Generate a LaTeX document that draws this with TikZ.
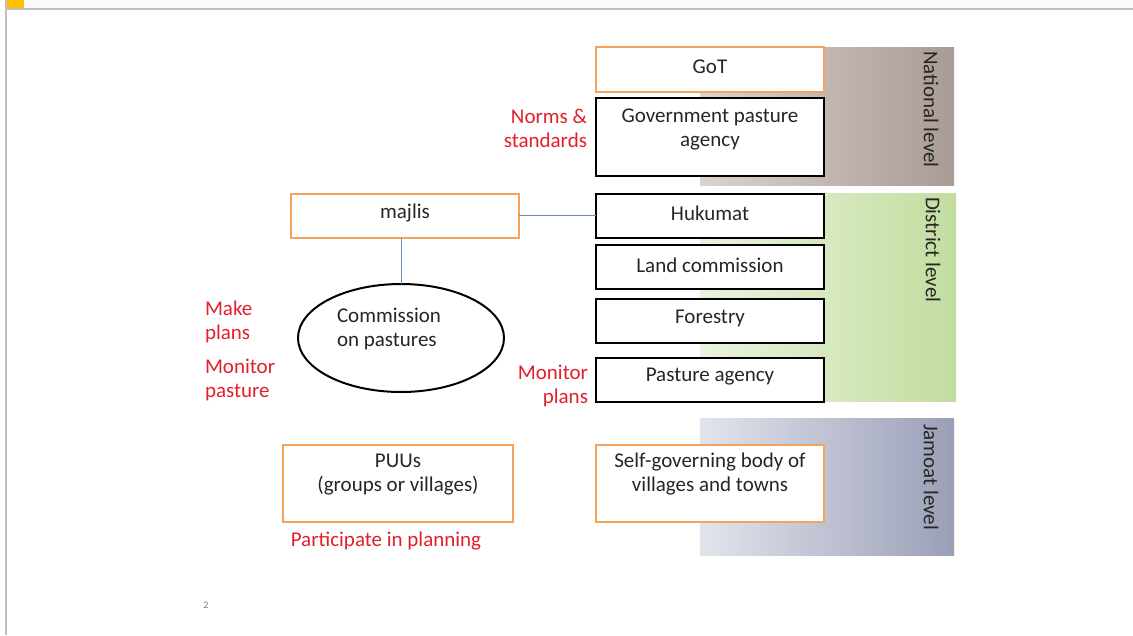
\documentclass[tikz,border=0pt]{standalone}
\usepackage{fontspec}
\setmainfont{Carlito}
\usetikzlibrary{shapes.geometric}
\definecolor{orangeb}{HTML}{F4A45C}
\definecolor{redlbl}{HTML}{E2202C}
\definecolor{connc}{HTML}{6F90B2}
\definecolor{topor}{HTML}{FFC000}
\definecolor{natL}{HTML}{DCD2CE}
\definecolor{natR}{HTML}{A99B95}
\definecolor{disL}{HTML}{EAF3DF}
\definecolor{disR}{HTML}{C3DD9F}
\definecolor{jamL}{HTML}{E2E4EC}
\definecolor{jamR}{HTML}{9A9FB7}
\begin{document}
\begin{tikzpicture}[x=1pt,y=-1pt,
  every node/.style={inner sep=0pt, outer sep=0pt},
  txt/.style={font=\fontsize{21}{24}\selectfont, text=black!85, align=center},
  redtxt/.style={font=\fontsize{21}{24}\selectfont, text=redlbl},
  obox/.style={draw=orangeb, line width=2pt, fill=white},
  kbox/.style={draw=black, line width=2pt, fill=white},
  conn/.style={draw=connc, line width=1pt},
  lvl/.style={font=\fontsize{21}{24}\selectfont, text=black!85, rotate=-90, anchor=west}
]
\useasboundingbox (0,0) rectangle (1133,635);
\fill[white] (0,0) rectangle (1133,635);
% slide frame
\fill[black!2] (7,0) rectangle (1133,8);
\fill[black!25] (5,8) rectangle (1133,10);
\fill[black!25] (5,0) rectangle (7,635);
\fill[topor] (7,0) rectangle (24,8);
% level bands
\shade[left color=natL, right color=natR] (700,47) rectangle (954,185);
\shade[left color=disL, right color=disR] (700,193) rectangle (956,401);
\shade[left color=jamL, right color=jamR] (700,418) rectangle (954,555);
\node[lvl] (natlvl) at (931,51) {National level};
\node[lvl] (dislvl) at (933,197) {District level};
\node[lvl] (jamlvl) at (931,424) {Jamoat level};
% right column boxes
\node[obox, minimum width=228, minimum height=45] (got) at (710,69.5) {};
\node[txt] at (710,67) {GoT};
\node[kbox, minimum width=228, minimum height=78] (gpa) at (710,137) {};
\node[txt, anchor=north] at (710,109) {Government pasture\\agency};
\node[kbox, minimum width=228, minimum height=44] (huk) at (710,215.5) {};
\node[txt] at (710,213) {Hukumat};
\node[kbox, minimum width=228, minimum height=44] (land) at (710,267) {};
\node[txt] at (710,265) {Land commission};
\node[kbox, minimum width=228, minimum height=44] (for) at (710,321) {};
\node[txt] at (710,318) {Forestry};
\node[kbox, minimum width=228, minimum height=44] (pag) at (710,380) {};
\node[txt] at (710,377) {Pasture agency};
\node[obox, minimum width=228, minimum height=77] (self) at (710,483.5) {};
\node[txt, anchor=north] at (710,453) {Self-governing body of\\villages and towns};
% left column
\node[obox, minimum width=228, minimum height=44] (maj) at (405,215.5) {};
\node[txt] at (405,213) {majlis};
\node[draw=black, line width=2pt, ellipse, minimum width=206, minimum height=108] (com) at (401,338) {};
\node[txt, align=left] at (389,329) {Commission\\on pastures};
\node[obox, minimum width=230, minimum height=77] (puu) at (398,483.5) {};
\node[txt, anchor=north] at (398,454) {PUUs\\(groups or villages)};
% connectors
\draw[conn] (maj.east) -- (huk.west);
\draw[conn] (maj.south -| com.north) -- (com.north);
% red labels
\node[redtxt, align=right, anchor=north east] (norms) at (587,109) {Norms \&\\standards};
\node[redtxt, align=left, anchor=north west] (make) at (205,301) {Make\\plans};
\node[redtxt, align=left, anchor=north west] (monp) at (205,359) {Monitor\\pasture};
\node[redtxt, align=right, anchor=north east] (monpl) at (588,365) {Monitor\\plans};
\node[redtxt, anchor=north] (part) at (386,532) {Participate in planning};
% page number
\node[font=\fontsize{10}{12}\selectfont, text=black!50] (pnum) at (206,605) {2};
\end{tikzpicture}
\end{document}
